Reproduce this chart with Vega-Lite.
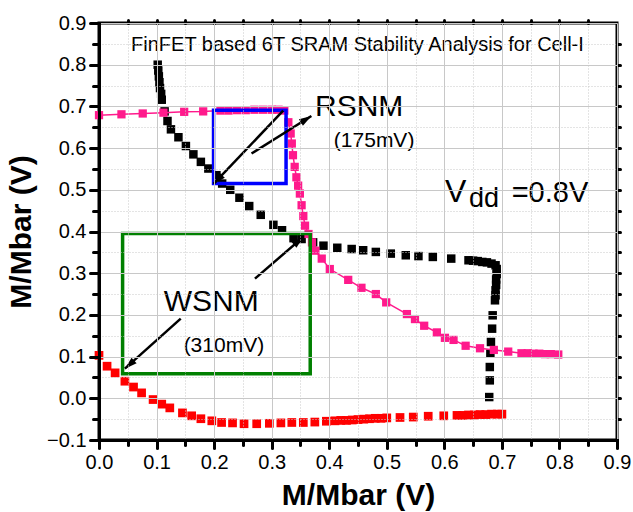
{
  "$schema": "https://vega.github.io/schema/vega-lite/v6.json",
  "autosize": "none",
  "width": 518,
  "height": 417,
  "padding": {"left": 99, "top": 23, "right": 16, "bottom": 72},
  "background": "white",
  "config": {
    "font": "Liberation Sans",
    "view": {"stroke": "black", "strokeWidth": 3},
    "axis": {"labelFont": "Liberation Sans", "titleFont": "Liberation Sans", "labelColor": "black", "titleColor": "black"}
  },
  "datasets": {
    "black": [
      {"x": 0.102, "y": 0.800}, {"x": 0.103, "y": 0.786}, {"x": 0.104, "y": 0.772}, {"x": 0.105, "y": 0.758},
      {"x": 0.106, "y": 0.744}, {"x": 0.108, "y": 0.730}, {"x": 0.109, "y": 0.716}, {"x": 0.114, "y": 0.688},
      {"x": 0.119, "y": 0.665}, {"x": 0.125, "y": 0.645}, {"x": 0.138, "y": 0.626}, {"x": 0.151, "y": 0.605},
      {"x": 0.164, "y": 0.585}, {"x": 0.177, "y": 0.567}, {"x": 0.190, "y": 0.551}, {"x": 0.204, "y": 0.535},
      {"x": 0.214, "y": 0.515}, {"x": 0.228, "y": 0.500}, {"x": 0.244, "y": 0.481}, {"x": 0.261, "y": 0.461},
      {"x": 0.281, "y": 0.440}, {"x": 0.303, "y": 0.416}, {"x": 0.318, "y": 0.403}, {"x": 0.338, "y": 0.384},
      {"x": 0.352, "y": 0.382}, {"x": 0.372, "y": 0.374}, {"x": 0.390, "y": 0.366}, {"x": 0.414, "y": 0.361},
      {"x": 0.439, "y": 0.358}, {"x": 0.459, "y": 0.355}, {"x": 0.481, "y": 0.351}, {"x": 0.507, "y": 0.347},
      {"x": 0.533, "y": 0.343}, {"x": 0.555, "y": 0.341}, {"x": 0.580, "y": 0.339}, {"x": 0.612, "y": 0.335},
      {"x": 0.642, "y": 0.331}, {"x": 0.650, "y": 0.330}, {"x": 0.658, "y": 0.329}, {"x": 0.666, "y": 0.327},
      {"x": 0.674, "y": 0.326}, {"x": 0.682, "y": 0.323}, {"x": 0.689, "y": 0.319}, {"x": 0.691, "y": 0.310},
      {"x": 0.691, "y": 0.298}, {"x": 0.690, "y": 0.285}, {"x": 0.690, "y": 0.272}, {"x": 0.689, "y": 0.259},
      {"x": 0.689, "y": 0.247}, {"x": 0.688, "y": 0.235}, {"x": 0.684, "y": 0.199}, {"x": 0.683, "y": 0.167},
      {"x": 0.681, "y": 0.135}, {"x": 0.680, "y": 0.107}, {"x": 0.679, "y": 0.075}, {"x": 0.679, "y": 0.043},
      {"x": 0.678, "y": 0.003}
    ],
    "pink": [
      {"x": 0.000, "y": 0.679}, {"x": 0.039, "y": 0.681}, {"x": 0.076, "y": 0.683}, {"x": 0.112, "y": 0.685},
      {"x": 0.148, "y": 0.687}, {"x": 0.181, "y": 0.688}, {"x": 0.211, "y": 0.690}, {"x": 0.225, "y": 0.690},
      {"x": 0.240, "y": 0.691}, {"x": 0.255, "y": 0.691}, {"x": 0.270, "y": 0.692}, {"x": 0.285, "y": 0.692},
      {"x": 0.300, "y": 0.692}, {"x": 0.312, "y": 0.692}, {"x": 0.322, "y": 0.690}, {"x": 0.329, "y": 0.662},
      {"x": 0.333, "y": 0.635}, {"x": 0.335, "y": 0.611}, {"x": 0.337, "y": 0.583}, {"x": 0.340, "y": 0.555},
      {"x": 0.343, "y": 0.530}, {"x": 0.346, "y": 0.510}, {"x": 0.349, "y": 0.491}, {"x": 0.352, "y": 0.463},
      {"x": 0.355, "y": 0.437}, {"x": 0.358, "y": 0.414}, {"x": 0.364, "y": 0.394}, {"x": 0.370, "y": 0.374},
      {"x": 0.376, "y": 0.354}, {"x": 0.387, "y": 0.335}, {"x": 0.401, "y": 0.310}, {"x": 0.433, "y": 0.284},
      {"x": 0.456, "y": 0.265}, {"x": 0.481, "y": 0.250}, {"x": 0.499, "y": 0.230}, {"x": 0.535, "y": 0.202},
      {"x": 0.549, "y": 0.190}, {"x": 0.565, "y": 0.174}, {"x": 0.587, "y": 0.158}, {"x": 0.601, "y": 0.145},
      {"x": 0.616, "y": 0.140}, {"x": 0.637, "y": 0.126}, {"x": 0.662, "y": 0.120}, {"x": 0.686, "y": 0.116},
      {"x": 0.711, "y": 0.112}, {"x": 0.734, "y": 0.108}, {"x": 0.745, "y": 0.108}, {"x": 0.755, "y": 0.107},
      {"x": 0.765, "y": 0.107}, {"x": 0.775, "y": 0.106}, {"x": 0.785, "y": 0.106}, {"x": 0.798, "y": 0.105}
    ],
    "red": [
      {"x": 0.000, "y": 0.103}, {"x": 0.014, "y": 0.077}, {"x": 0.028, "y": 0.061}, {"x": 0.045, "y": 0.041},
      {"x": 0.060, "y": 0.027}, {"x": 0.074, "y": 0.013}, {"x": 0.094, "y": -0.003}, {"x": 0.109, "y": -0.014},
      {"x": 0.123, "y": -0.023}, {"x": 0.145, "y": -0.035}, {"x": 0.161, "y": -0.042}, {"x": 0.177, "y": -0.049},
      {"x": 0.196, "y": -0.054}, {"x": 0.213, "y": -0.058}, {"x": 0.232, "y": -0.059}, {"x": 0.252, "y": -0.061},
      {"x": 0.274, "y": -0.061}, {"x": 0.296, "y": -0.060}, {"x": 0.316, "y": -0.059}, {"x": 0.335, "y": -0.058},
      {"x": 0.355, "y": -0.058}, {"x": 0.375, "y": -0.057}, {"x": 0.395, "y": -0.055}, {"x": 0.410, "y": -0.054},
      {"x": 0.420, "y": -0.053}, {"x": 0.430, "y": -0.053}, {"x": 0.440, "y": -0.052}, {"x": 0.450, "y": -0.051},
      {"x": 0.460, "y": -0.050}, {"x": 0.470, "y": -0.049}, {"x": 0.480, "y": -0.048}, {"x": 0.490, "y": -0.048},
      {"x": 0.500, "y": -0.047}, {"x": 0.523, "y": -0.046}, {"x": 0.546, "y": -0.045}, {"x": 0.572, "y": -0.043},
      {"x": 0.599, "y": -0.042}, {"x": 0.622, "y": -0.041}, {"x": 0.632, "y": -0.041}, {"x": 0.642, "y": -0.040},
      {"x": 0.652, "y": -0.040}, {"x": 0.662, "y": -0.039}, {"x": 0.672, "y": -0.039}, {"x": 0.682, "y": -0.038},
      {"x": 0.692, "y": -0.038}, {"x": 0.700, "y": -0.038}
    ]
  },
  "resolve": {"axis": {"x": "independent", "y": "independent"}},
  "layer": [
    {
      "data": {"name": "black"},
      "mark": {"type": "point", "shape": "square", "filled": true, "size": 72, "color": "black", "opacity": 1},
      "encoding": {
        "x": {"field": "x", "type": "quantitative",
          "scale": {"domain": [0, 0.9], "nice": false, "zero": false},
          "axis": {"orient": "bottom", "values": [0, 0.1, 0.2, 0.3, 0.4, 0.5, 0.6, 0.7, 0.8, 0.9], "format": ".1f",
            "labelFontSize": 20, "labelPadding": 4, "labelFlush": false,
            "grid": true, "gridColor": "#c8c8c8", "gridWidth": 1,
            "domain": true, "domainColor": "black", "domainWidth": 3, "domainCap": "square",
            "ticks": true, "tickColor": "black", "tickWidth": 3, "tickSize": 8, "tickCap": "round", "tickOpacity": 1,
            "title": "M/Mbar (V)", "titleFontSize": 30, "titleFontWeight": "bold", "titlePadding": 8, "zindex": 2}},
        "y": {"field": "y", "type": "quantitative",
          "scale": {"domain": [-0.1, 0.9], "nice": false, "zero": false},
          "axis": {"orient": "left", "values": [-0.1, 0, 0.1, 0.2, 0.3, 0.4, 0.5, 0.6, 0.7, 0.8, 0.9], "format": ".1f",
            "labelFontSize": 20, "labelPadding": 4, "labelFlush": false,
            "grid": true, "gridColor": "#c8c8c8", "gridWidth": 1,
            "domain": true, "domainColor": "black", "domainWidth": 3, "domainCap": "square",
            "ticks": true, "tickColor": "black", "tickWidth": 3, "tickSize": 9, "tickCap": "round", "tickOpacity": 1,
            "title": "M/Mbar (V)", "titleFontSize": 30, "titleFontWeight": "bold", "titlePadding": 10, "zindex": 2}}
      }
    },
    {
      "data": {"name": "pink"},
      "mark": {"type": "line", "color": "#ff1a8c", "strokeWidth": 1.5, "point": {"shape": "square", "filled": true, "size": 68, "color": "#ff1a8c", "opacity": 1}},
      "encoding": {
        "x": {"field": "x", "type": "quantitative",
          "axis": {"orient": "bottom", "values": [0.05, 0.15, 0.25, 0.35, 0.45, 0.55, 0.65, 0.75, 0.85],
            "labels": false, "domain": false, "grid": true, "gridColor": "#c8c8c8", "gridDash": [1, 2], "gridWidth": 1,
            "ticks": true, "tickColor": "black", "tickWidth": 3, "tickSize": 5, "tickCap": "round", "title": null, "zindex": 1}},
        "y": {"field": "y", "type": "quantitative",
          "axis": {"orient": "left", "values": [-0.05, 0.05, 0.15, 0.25, 0.35, 0.45, 0.55, 0.65, 0.75, 0.85],
            "labels": false, "domain": false, "grid": true, "gridColor": "#c8c8c8", "gridDash": [1, 2], "gridWidth": 1,
            "ticks": true, "tickColor": "black", "tickWidth": 3, "tickSize": 6, "tickCap": "round", "title": null, "zindex": 1}}
      }
    },
    {
      "data": {"name": "red"},
      "mark": {"type": "point", "shape": "square", "filled": true, "size": 76, "color": "#ff0000", "opacity": 1},
      "encoding": {
        "x": {"field": "x", "type": "quantitative",
          "axis": {"orient": "top", "values": [0.05, 0.1, 0.15, 0.2, 0.25, 0.3, 0.35, 0.4, 0.45, 0.5, 0.55, 0.6, 0.65, 0.7, 0.75, 0.8, 0.85],
            "labels": false, "domain": false, "grid": false, "ticks": true, "tickColor": "black", "tickWidth": 3, "tickSize": 3, "tickCap": "round", "title": null, "zindex": 1}},
        "y": {"field": "y", "type": "quantitative",
          "axis": {"orient": "right", "values": [-0.05, 0, 0.05, 0.1, 0.15, 0.2, 0.25, 0.3, 0.35, 0.4, 0.45, 0.5, 0.55, 0.6, 0.65, 0.7, 0.75, 0.8, 0.85],
            "labels": false, "domain": false, "grid": false, "ticks": true, "tickColor": "black", "tickWidth": 3, "tickSize": 3, "tickCap": "round", "title": null, "zindex": 1}}
      }
    },
    {
      "data": {"values": [
        {"x": 0.199, "x2": 0.325, "y": 0.515, "y2": 0.691, "box": "RSNM"}
      ]},
      "mark": {"type": "rect", "fill": null, "fillOpacity": 0, "stroke": "#0000ff", "strokeWidth": 3.5},
      "encoding": {
        "x": {"field": "x", "type": "quantitative", "axis": null}, "x2": {"field": "x2"},
        "y": {"field": "y", "type": "quantitative", "axis": null}, "y2": {"field": "y2"}
      }
    },
    {
      "data": {"values": [
        {"x": 0.041, "x2": 0.367, "y": 0.059, "y2": 0.395, "box": "WSNM"}
      ]},
      "mark": {"type": "rect", "fill": null, "fillOpacity": 0, "stroke": "#008000", "strokeWidth": 3.5},
      "encoding": {
        "x": {"field": "x", "type": "quantitative", "axis": null}, "x2": {"field": "x2"},
        "y": {"field": "y", "type": "quantitative", "axis": null}, "y2": {"field": "y2"}
      }
    },
    {
      "data": {"values": [
        {"x": 0.320, "y": 0.690, "x2": 0.199, "y2": 0.514, "dir": 223.7},
        {"x": 0.265, "y": 0.587, "x2": 0.369, "y2": 0.677, "dir": 57.9},
        {"x": 0.271, "y": 0.287, "x2": 0.355, "y2": 0.387, "dir": 49.3},
        {"x": 0.142, "y": 0.191, "x2": 0.045, "y2": 0.071, "dir": 228.1}
      ]},
      "layer": [
        {
          "mark": {"type": "rule", "color": "black", "strokeWidth": 2.5},
          "encoding": {
            "x": {"field": "x", "type": "quantitative", "axis": null}, "x2": {"field": "x2"},
            "y": {"field": "y", "type": "quantitative", "axis": null}, "y2": {"field": "y2"}
          }
        },
        {
          "mark": {"type": "point", "shape": "M0,0L-0.8,2.6L0.8,2.6Z", "filled": true, "color": "black", "size": 90, "opacity": 1},
          "encoding": {
            "x": {"field": "x2", "type": "quantitative", "axis": null},
            "y": {"field": "y2", "type": "quantitative", "axis": null},
            "angle": {"field": "dir", "type": "quantitative", "scale": null}
          }
        }
      ]
    },
    {
      "data": {"values": [{"x": 0.449, "y": 0.834, "label": "FinFET based 6T SRAM Stability Analysis for Cell-I"}]},
      "mark": {"type": "text", "font": "Liberation Sans", "fontSize": 20, "align": "center", "baseline": "alphabetic", "color": "black"},
      "encoding": {"x": {"field": "x", "type": "quantitative", "axis": null}, "y": {"field": "y", "type": "quantitative", "axis": null}, "text": {"field": "label"}}
    },
    {
      "data": {"values": [
        {"x": 0.452, "y": 0.678, "label": "RSNM"},
        {"x": 0.195, "y": 0.210, "label": "WSNM"}
      ]},
      "mark": {"type": "text", "font": "Liberation Sans", "fontSize": 30, "align": "center", "baseline": "alphabetic", "color": "black"},
      "encoding": {"x": {"field": "x", "type": "quantitative", "axis": null}, "y": {"field": "y", "type": "quantitative", "axis": null}, "text": {"field": "label"}}
    },
    {
      "data": {"values": [
        {"x": 0.478, "y": 0.602, "label": "(175mV)"},
        {"x": 0.217, "y": 0.110, "label": "(310mV)"}
      ]},
      "mark": {"type": "text", "font": "Liberation Sans", "fontSize": 21, "align": "center", "baseline": "alphabetic", "color": "black"},
      "encoding": {"x": {"field": "x", "type": "quantitative", "axis": null}, "y": {"field": "y", "type": "quantitative", "axis": null}, "text": {"field": "label"}}
    },
    {
      "data": {"values": [
        {"x": 0.601, "y": 0.470, "label": "V"}
      ]},
      "mark": {"type": "text", "font": "Liberation Sans", "fontSize": 32, "align": "left", "baseline": "alphabetic", "color": "black"},
      "encoding": {"x": {"field": "x", "type": "quantitative", "axis": null}, "y": {"field": "y", "type": "quantitative", "axis": null}, "text": {"field": "label"}}
    },
    {
      "data": {"values": [
        {"x": 0.717, "y": 0.470, "label": "=0.8V"}
      ]},
      "mark": {"type": "text", "font": "Liberation Sans", "fontSize": 29, "align": "left", "baseline": "alphabetic", "color": "black"},
      "encoding": {"x": {"field": "x", "type": "quantitative", "axis": null}, "y": {"field": "y", "type": "quantitative", "axis": null}, "text": {"field": "label"}}
    },
    {
      "data": {"values": [{"x": 0.643, "y": 0.458, "label": "dd"}]},
      "mark": {"type": "text", "font": "Liberation Sans", "fontSize": 27, "align": "left", "baseline": "alphabetic", "color": "black"},
      "encoding": {"x": {"field": "x", "type": "quantitative", "axis": null}, "y": {"field": "y", "type": "quantitative", "axis": null}, "text": {"field": "label"}}
    }
  ]
}
